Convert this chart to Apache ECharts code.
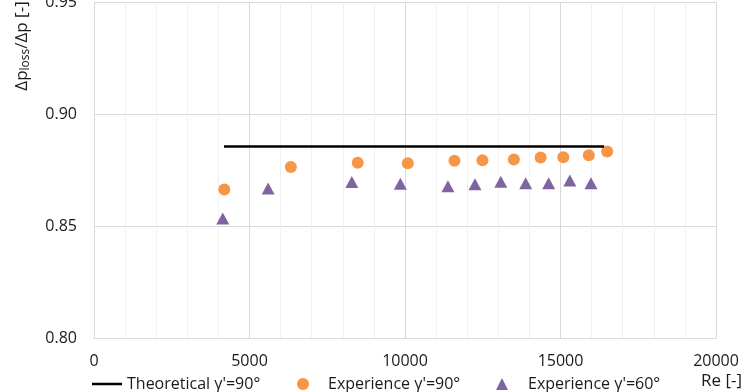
<!DOCTYPE html>
<html>
<head>
<meta charset="utf-8">
<script src="https://cdn.jsdelivr.net/npm/echarts@6/dist/echarts.min.js"></script>
<style>
  html, body { margin: 0; padding: 0; background: #fff; }
  #chart { width: 745px; height: 392px; }
</style>
</head>
<body>
<div id="chart"></div>
<script>
// theoretical line (gamma' = 90 deg)
const reTheory = [4180, 16400];
const lossTheory = [0.8855, 0.8855];

// experience gamma' = 90 deg
const re90 = [4190, 6330, 8480, 10090, 11590, 12490, 13500, 14360, 15090, 15910, 16500];
const loss90 = [0.8663, 0.8763, 0.8782, 0.8780, 0.8791, 0.8793, 0.8797, 0.8806, 0.8807, 0.8816, 0.8833];

// experience gamma' = 60 deg
const re60 = [4140, 5600, 8290, 9850, 11380, 12250, 13080, 13880, 14620, 15300, 15980];
const loss60 = [0.8534, 0.8667, 0.8696, 0.8689, 0.8677, 0.8686, 0.8698, 0.8691, 0.8691, 0.8703, 0.8691];

const FONT = 'Open Sans';
const TXT = '#1a1a1a';

const pair = (xs, ys) => xs.map((x, i) => [x, ys[i]]);

const chart = echarts.init(document.getElementById('chart'));

// one legend box per item so they sit where the original has them
const legendBase = {
  top: 376,
  padding: 0,
  itemHeight: 12,
  textStyle: { fontFamily: FONT, fontSize: 16, color: TXT }
};

chart.setOption({
  animation: false,
  grid: { left: 94, right: 29, top: 2, bottom: 54, outerBoundsMode: 'none' },
  legend: [
    Object.assign({}, legendBase, {
      left: 92, itemWidth: 30, itemHeight: 2.5,
      data: [{ name: "Theoretical γ'=90°", icon: 'rect' }]
    }),
    Object.assign({}, legendBase, {
      left: 297, itemWidth: 12, data: ["Experience γ'=90°"],
      textStyle: Object.assign({}, legendBase.textStyle, { padding: [0, 0, 0, 14] })
    }),
    Object.assign({}, legendBase, {
      left: 496, itemWidth: 12, data: ["Experience γ'=60°"],
      textStyle: Object.assign({}, legendBase.textStyle, { padding: [0, 0, 0, 15] })
    })
  ],
  xAxis: {
    type: 'value',
    min: 0,
    max: 20000,
    interval: 5000,
    axisLine: { show: true, lineStyle: { color: '#d9d9d9' } },
    axisTick: { show: false },
    axisLabel: {
      fontFamily: FONT, fontSize: 16, color: TXT, margin: 15,
      formatter: v => String(v)
    },
    splitLine: { show: true, lineStyle: { color: '#d9d9d9' } },
    minorTick: { show: false, splitNumber: 5 },
    minorSplitLine: { show: true, lineStyle: { color: '#f0f0f0' } }
  },
  yAxis: {
    type: 'value',
    min: 0.80,
    max: 0.95,
    interval: 0.05,
    axisLine: { show: true, lineStyle: { color: '#d9d9d9' } },
    axisTick: { show: false },
    axisLabel: {
      fontFamily: FONT, fontSize: 16, color: TXT, margin: 17,
      padding: [6, 0, 0, 0],
      formatter: v => v.toFixed(2)
    },
    splitLine: { show: true, lineStyle: { color: '#d9d9d9' } }
  },
  series: [
    {
      name: "Theoretical γ'=90°",
      type: 'line',
      symbol: 'none',
      data: pair(reTheory, lossTheory),
      lineStyle: { color: '#000', width: 2.5 },
      itemStyle: { color: '#000' }
    },
    {
      name: "Experience γ'=90°",
      type: 'scatter',
      symbol: 'circle',
      symbolSize: 12,
      data: pair(re90, loss90),
      itemStyle: { color: '#F79646', opacity: 1 }
    },
    {
      name: "Experience γ'=60°",
      type: 'scatter',
      symbol: 'triangle',
      symbolSize: [13, 12],
      data: pair(re60, loss60),
      itemStyle: { color: '#8064A2', opacity: 1 }
    }
  ],
  graphic: [
    {
      type: 'text',
      x: 22,
      y: 46,
      rotation: Math.PI / 2,
      style: {
        text: '{a|Δp}{s|loss}{a|/Δp [-]}',
        align: 'center',
        verticalAlign: 'middle',
        fill: TXT,
        rich: {
          a: { fontFamily: FONT, fontSize: 17, lineHeight: 20, fill: TXT },
          s: { fontFamily: FONT, fontSize: 12, lineHeight: 16, verticalAlign: 'bottom', fill: TXT }
        }
      }
    },
    {
      type: 'text',
      right: 3,
      top: 373,
      style: { text: 'Re [-]', fontFamily: FONT, fontSize: 17, fill: TXT }
    }
  ]
});
</script>
</body>
</html>
